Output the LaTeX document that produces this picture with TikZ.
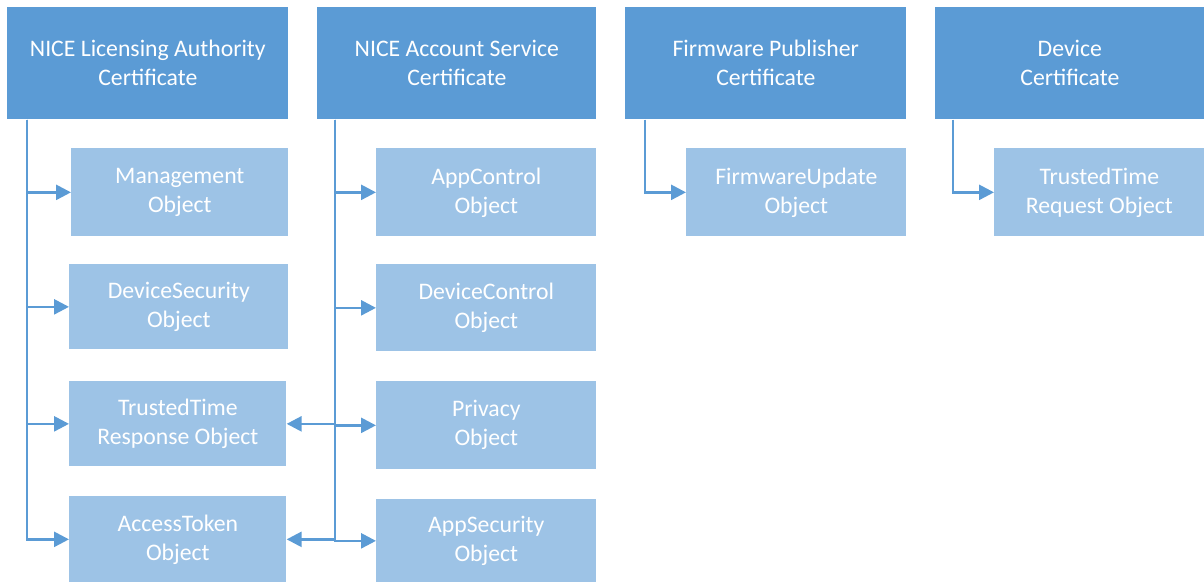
\documentclass[tikz,border=0pt]{standalone}
\usepackage{fontspec}
\setmainfont{Carlito}
\usetikzlibrary{arrows.meta}
\definecolor{hdrblue}{HTML}{5B9BD5}
\definecolor{objblue}{HTML}{9DC3E6}
\tikzset{
  hdr/.style={fill=hdrblue, text=white, anchor=north west, align=center, inner sep=0pt,
    font=\fontsize{13.5}{16.5}\selectfont},
  obj/.style={fill=objblue, text=white, anchor=north west, align=center, inner sep=0pt,
    font=\fontsize{13.5}{16.5}\selectfont},
  link/.style={draw=hdrblue, line width=1.5pt, -{Triangle[length=8.5pt,width=8.5pt]}}
}
\begin{document}
\begin{tikzpicture}[x=0.02cm,y=-0.02cm]
\useasboundingbox (0,0) rectangle (1204,582);
% certificates
\node[hdr, minimum width=5.62cm, minimum height=2.24cm] (nla) at (7,7) {NICE Licensing Authority\\Certificate};
\node[hdr, minimum width=5.58cm, minimum height=2.24cm] (nas) at (317,7) {NICE Account Service\\Certificate};
\node[hdr, minimum width=5.62cm, minimum height=2.24cm] (fwp) at (625,7) {Firmware Publisher\\Certificate};
\node[hdr, minimum width=5.38cm, minimum height=2.24cm] (dev) at (935,7) {Device\\Certificate};
% objects
\node[obj, minimum width=4.34cm, minimum height=1.76cm] (mgmt) at (71,148) {Management\\Object};
\node[obj, minimum width=4.38cm, minimum height=1.70cm] (devsec) at (69,264) {DeviceSecurity\\Object};
\node[obj, minimum width=4.34cm, minimum height=1.70cm] (ttresp) at (69,381) {TrustedTime\\Response Object};
\node[obj, minimum width=4.34cm, minimum height=1.72cm] (token) at (69,496) {AccessToken\\Object};
\node[obj, minimum width=4.40cm, minimum height=1.76cm] (appctl) at (376,148) {AppControl\\Object};
\node[obj, minimum width=4.40cm, minimum height=1.74cm] (devctl) at (376,264) {DeviceControl\\Object};
\node[obj, minimum width=4.40cm, minimum height=1.76cm] (privacy) at (376,381) {Privacy\\Object};
\node[obj, minimum width=4.40cm, minimum height=1.66cm] (appsec) at (376,499) {AppSecurity\\Object};
\node[obj, minimum width=4.40cm, minimum height=1.76cm] (fwupd) at (686,148) {FirmwareUpdate\\Object};
\node[obj, minimum width=4.20cm, minimum height=1.76cm] (ttreq) at (994,148) {TrustedTime\\Request Object};
% trunks
\coordinate (j1) at ([xshift=0.40cm]nla.south west);
\coordinate (j2) at ([xshift=0.36cm]nas.south west);
\coordinate (j3) at ([xshift=0.40cm]fwp.south west);
\coordinate (j4) at ([xshift=0.36cm]dev.south west);
\foreach \o in {mgmt,devsec,ttresp,token}
  \draw[link] (j1) |- (\o);
\foreach \o in {appctl,devctl,privacy,appsec}
  \draw[link] (j2) |- (\o);
\draw[link] (j3) |- (fwupd);
\draw[link] (j4) |- (ttreq);
% cross links
\draw[link] (j2 |- ttresp) -- (ttresp);
\draw[link] (j2 |- token) -- (token);
\end{tikzpicture}
\end{document}
